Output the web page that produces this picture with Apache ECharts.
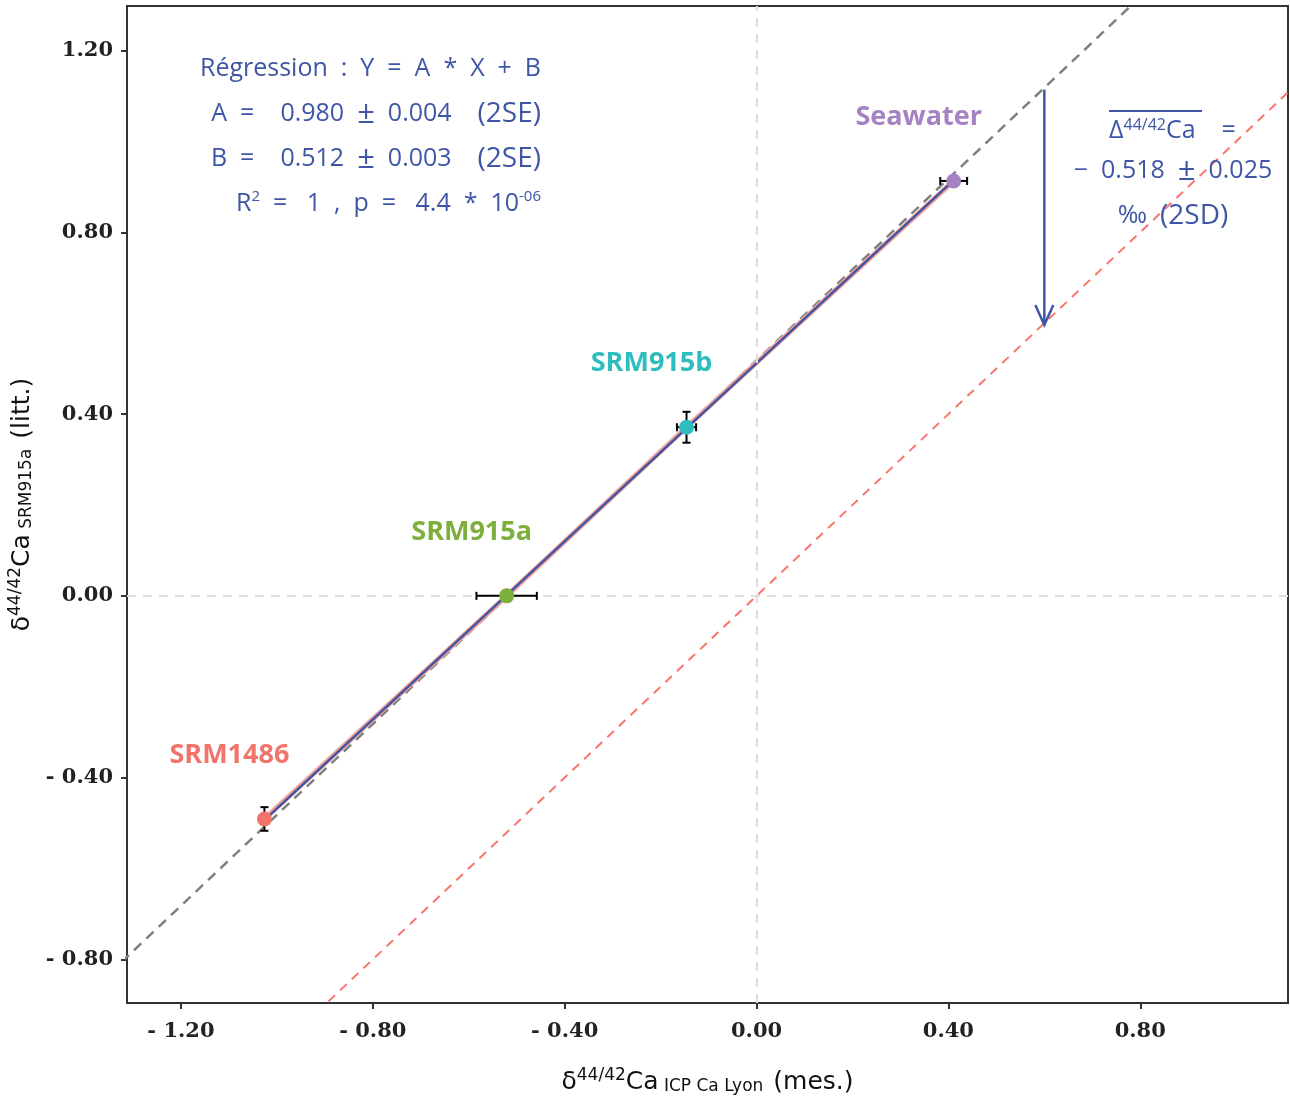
<!DOCTYPE html>
<html><head><meta charset="utf-8">
<script src="https://cdn.jsdelivr.net/npm/echarts@6/dist/echarts.min.js"></script>
<style>html,body{margin:0;padding:0;background:#fff}#c{width:1290px;height:1096px}</style>
</head><body><div id="c"></div>
<script>
// ---- data ----
const samples = ['SRM1486', 'SRM915a', 'SRM915b', 'Seawater'];
const xMeasured = [-1.026, -0.521, -0.146, 0.411];
const yLiterature = [-0.491, 0.000, 0.371, 0.913];
const xErr = [0.000, 0.063, 0.020, 0.028];
const yErr = [0.026, 0.000, 0.034, 0.000];
const sampleColors = ['#F2736A', '#7DAF3C', '#2DBDBE', '#A582C2'];
const slopeA = 0.980;
const interceptB = 0.512;
const meanDelta = 0.518;
const arrowX = 0.600;
const arrowFrom = 1.114;
const arrowTo = 0.596;
const xTicks = [-1.2, -0.8, -0.4, 0, 0.4, 0.8];
const yTicks = [-0.8, -0.4, 0, 0.4, 0.8, 1.2];
const xRange = [-1.3125, 1.108];
const yRange = [-0.896, 1.298];

const BLUE = '#3F55A6';
const fmt = v => (v < 0 ? '- ' + Math.abs(v).toFixed(2) : v.toFixed(2));

const chart = echarts.init(document.getElementById('c'), null, {renderer: 'canvas'});

const xLo = xRange[0] - 0.5, xHi = xRange[1] + 0.5;
const xMin = Math.min(...xMeasured), xMax = Math.max(...xMeasured);
const pts = samples.map((s, i) => [xMeasured[i], yLiterature[i], xErr[i], yErr[i], i]);
const sortedPts = pts.slice().sort((a, b) => a[0] - b[0]).map(p => [p[0], p[1]]);

const sansLatex = '"Open Sans", sans-serif';
const F = '25px ' + sansLatex;
const richName = {
  d: {fontFamily: '"DejaVu Sans", sans-serif', fontSize: 25, color: '#111'},
  sup: {fontFamily: '"DejaVu Sans", sans-serif', fontSize: 17, color: '#111', padding: [0, 0, 14, 0]},
  sub: {fontFamily: '"DejaVu Sans", sans-serif', fontSize: 17, color: '#111', padding: [8, 2, 0, 0]}
};
const richTxt = {
  t: {fill: BLUE, font: F},
  pm: {fill: BLUE, font: '31px ' + sansLatex},
  p: {fill: BLUE, font: '28px ' + sansLatex},
  s: {fill: BLUE, font: '15px ' + sansLatex, padding: [0, 0, 14, 0]},
  s2: {fill: BLUE, font: '16px ' + sansLatex, padding: [0, 0, 12, 0]}
};
const txt = (x, y, text, align) => ({
  type: 'text', x: x, y: y, z: 100,
  style: {text: text, rich: richTxt, fill: BLUE, font: F, align: align, verticalAlign: 'middle'}
});
const option = {
  animation: false,
  backgroundColor: '#fff',
  grid: {left: 127, right: 2, top: 6, bottom: 93, show: true, borderColor: '#333', borderWidth: 2,
    backgroundColor: 'transparent', outerBoundsMode: 'none', containLabel: false},
  xAxis: {
    type: 'value', min: xRange[0], max: xRange[1],
    axisLine: {show: true, onZero: false, lineStyle: {color: '#333', width: 2}},
    axisTick: {show: true, length: 6, lineStyle: {color: '#333', width: 2}, customValues: xTicks},
    axisLabel: {customValues: xTicks, formatter: fmt, margin: 18, color: '#222',
      fontFamily: '"DejaVu Serif", serif', fontWeight: 'bold', fontSize: 21},
    splitLine: {show: false},
    name: '{d|δ}{sup|44/42}{d|Ca}{sub| ICP Ca Lyon}{d| (mes.)}',
    nameLocation: 'middle', nameGap: 64,
    nameTextStyle: {rich: richName}
  },
  yAxis: {
    type: 'value', min: yRange[0], max: yRange[1],
    axisLine: {show: true, onZero: false, lineStyle: {color: '#333', width: 2}},
    axisTick: {show: true, length: 6, lineStyle: {color: '#333', width: 2}, customValues: yTicks},
    axisLabel: {customValues: yTicks, formatter: fmt, margin: 14, color: '#222',
      fontFamily: '"DejaVu Serif", serif', fontWeight: 'bold', fontSize: 21},
    splitLine: {show: false},
    name: '{d|δ}{sup|44/42}{d|Ca}{sub| SRM915a}{d| (litt.)}',
    nameLocation: 'middle', nameGap: 88, nameRotate: 90,
    nameTextStyle: {rich: richName}
  },
  series: [
    {
      type: 'line', data: [], silent: true, z: 1,
      markLine: {
        silent: true, symbol: 'none', label: {show: false},
        lineStyle: {color: '#DEDEDE', type: [9, 7], width: 2},
        data: [{xAxis: 0}, {yAxis: 0}]
      }
    },
    {
      type: 'line', data: [[xLo, xLo], [xHi, xHi]], symbol: 'none', silent: true, z: 2,
      lineStyle: {color: '#F8766D', width: 2, type: [9, 7]}
    },
    {
      type: 'line', data: [[xLo, xLo + meanDelta], [xHi, xHi + meanDelta]], symbol: 'none', silent: true, z: 2,
      lineStyle: {color: '#808080', width: 2.5, type: [10, 7]}
    },
    {
      type: 'line', data: sortedPts, symbol: 'none', silent: true, z: 3,
      lineStyle: {color: '#F7A39B', width: 5}
    },
    {
      type: 'line', data: [[xMin, slopeA * xMin + interceptB], [xMax, slopeA * xMax + interceptB]],
      symbol: 'none', silent: true, z: 4,
      lineStyle: {color: BLUE, width: 2.5}
    },
    {
      type: 'custom', z: 5, silent: true, data: pts,
      renderItem: function (params, api) {
        const x = api.value(0), y = api.value(1), ex = api.value(2), ey = api.value(3);
        const ch = [];
        const st = {stroke: '#000', lineWidth: 2};
        if (ex > 0) {
          const a = api.coord([x - ex, y]), b = api.coord([x + ex, y]);
          ch.push({type: 'line', shape: {x1: a[0], y1: a[1], x2: b[0], y2: b[1]}, style: st});
          ch.push({type: 'line', shape: {x1: a[0], y1: a[1] - 4, x2: a[0], y2: a[1] + 4}, style: st});
          ch.push({type: 'line', shape: {x1: b[0], y1: b[1] - 4, x2: b[0], y2: b[1] + 4}, style: st});
        }
        if (ey > 0) {
          const a = api.coord([x, y - ey]), b = api.coord([x, y + ey]);
          ch.push({type: 'line', shape: {x1: a[0], y1: a[1], x2: b[0], y2: b[1]}, style: st});
          ch.push({type: 'line', shape: {x1: a[0] - 4, y1: a[1], x2: a[0] + 4, y2: a[1]}, style: st});
          ch.push({type: 'line', shape: {x1: b[0] - 4, y1: b[1], x2: b[0] + 4, y2: b[1]}, style: st});
        }
        return {type: 'group', children: ch};
      }
    },
    {
      type: 'scatter', z: 6, silent: true, symbolSize: 15,
      data: pts.map(p => ({value: [p[0], p[1]], itemStyle: {color: sampleColors[p[4]], opacity: 1}}))
    },
    {
      type: 'custom', z: 7, silent: true, data: pts,
      renderItem: function (params, api) {
        const c = api.coord([api.value(0), api.value(1)]);
        const i = api.value(4);
        return {
          type: 'text', x: c[0] - 35, y: c[1] - 64,
          style: {text: samples[i], fill: sampleColors[i], fontSize: 27, fontWeight: 'bold',
            fontFamily: '"Open Sans", sans-serif', align: 'center', verticalAlign: 'middle'}
        };
      }
    },
    {
      type: 'custom', z: 7, silent: true, data: [[arrowX, arrowFrom, arrowTo]],
      renderItem: function (params, api) {
        const a = api.coord([api.value(0), api.value(1)]);
        const b = api.coord([api.value(0), api.value(2)]);
        const st = {stroke: BLUE, lineWidth: 2.5, fill: null};
        return {type: 'group', children: [
          {type: 'line', shape: {x1: a[0], y1: a[1], x2: b[0], y2: b[1] - 1}, style: st},
          {type: 'polyline', shape: {points: [[b[0] - 9, b[1] - 20], [b[0], b[1]], [b[0] + 9, b[1] - 20]]}, style: st}
        ]};
      }
    }
  ],
  graphic: [
    txt(541, 69, '{t|Régression  :  Y  =  A  *  X  +  B}', 'right'),
    txt(541, 114, '{t|A  =    0.980  }{pm|±}{t|  0.004    }{p|(2SE)}', 'right'),
    txt(541, 159, '{t|B  =    0.512  }{pm|±}{t|  0.003    }{p|(2SE)}', 'right'),
    txt(541, 204, '{t|R}{s|2}{t|  =   1  ,  p  =   4.4  *  10}{s|-06}', 'right'),
    txt(1109, 131, '{t|Δ}{s2|44/42}{t|Ca    =}', 'left'),
    {type: 'line', z: 100, shape: {x1: 1109, y1: 111, x2: 1202, y2: 111}, style: {stroke: BLUE, lineWidth: 2}},
    txt(1173, 171, '{t|−  0.518  }{pm|±}{t|  0.025}', 'center'),
    txt(1173, 216, '{t|‰  }{p|(2SD)}', 'center')
  ]
};
chart.setOption(option);
</script>
</body></html>
